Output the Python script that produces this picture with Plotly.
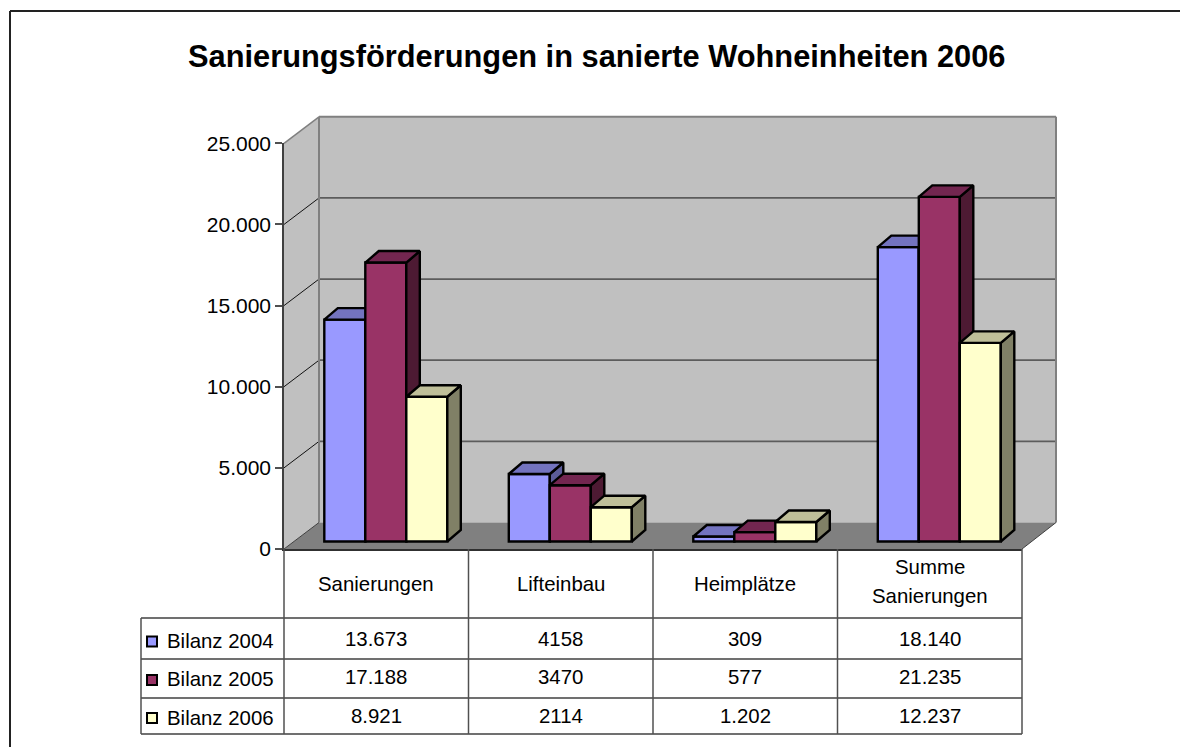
import plotly.graph_objects as go

# ---------- data ----------
categories = ["Sanierungen", "Lifteinbau", "Heimplätze", "Summe<br>Sanierungen"]
series_names = ["Bilanz 2004", "Bilanz 2005", "Bilanz 2006"]
bilanz_2004 = [13673, 4158, 309, 18140]
bilanz_2005 = [17188, 3470, 577, 21235]
bilanz_2006 = [8921, 2114, 1202, 12237]
labels_2004 = ["13.673", "4158", "309", "18.140"]
labels_2005 = ["17.188", "3470", "577", "21.235"]
labels_2006 = ["8.921", "2114", "1.202", "12.237"]
y_ticks = [0, 5000, 10000, 15000, 20000, 25000]
y_tick_labels = ["0", "5.000", "10.000", "15.000", "20.000", "25.000"]
title_text = "Sanierungsförderungen in sanierte Wohneinheiten 2006"

front_colors = ["#9999FF", "#993366", "#FFFFCC"]
top_colors = ["#7373BF", "#732650", "#BFBF99"]
side_colors = ["#5C5C99", "#4D1A33", "#808066"]

# ---------- layout geometry (pixels of the 1180x747 page) ----------
W, H = 1180, 747
X0, X1 = 284, 1022         # front of the floor
Y0, YT = 549, 143.3        # value 0 / value 25000 at the front
DX, DY = 35, 26.5          # depth of the chart box
FONT = "Liberation Sans"
TSIZE = 20.4

cat_w = (X1 - X0) / 4
bar_w = 41 / cat_w
first_bar_left = 324.3
group_centre = first_bar_left + 61.5
x_lo = (X0 - group_centre) / cat_w
x_hi = (X1 - group_centre) / cat_w
val_per_px = 25000 / (Y0 - YT)
bar_base = 7.5 * val_per_px
depth_x = 13.5 / cat_w
depth_y = 11.5 * val_per_px


def px(x):
    return x / W


def py(y):
    return 1 - y / H


def vy(v):
    return Y0 - v / val_per_px


shapes = []


def poly(points, fill, line=None, lw=0):
    path = "M " + " L ".join(f"{px(a):.5f},{py(b):.5f}" for a, b in points) + " Z"
    shapes.append(dict(type="path", path=path, xref="paper", yref="paper", fillcolor=fill,
                       line=dict(color=line or fill, width=lw), layer="below"))


def seg(a, b, c, d, color, lw=1, layer="above"):
    shapes.append(dict(type="line", xref="paper", yref="paper", x0=px(a), y0=py(b), x1=px(c), y1=py(d),
                       line=dict(color=color, width=lw), layer=layer))


# chart frame (only left and top edges fall inside the picture)
seg(10, 11, 10, H, "#222222", 2)
seg(10, 11, W, 11, "#222222", 2)

# 3-D box
top_back = vy(25000) - DY
base_back = Y0 - DY
poly([(X0, vy(25000)), (X0 + DX, top_back), (X0 + DX, base_back), (X0, Y0)], "#C0C0C0")
poly([(X0 + DX, top_back), (X1 + DX - 1, top_back), (X1 + DX - 1, base_back), (X0 + DX, base_back)], "#C0C0C0")
poly([(X0, Y0), (X0 + DX, base_back), (X1 + 34, base_back), (X1, Y0)], "#808080")
for t in y_ticks[1:-1]:
    seg(X0 + DX, vy(t) - DY, X1 + 34, vy(t) - DY, "#5C5C5C", 1.8, "below")
    seg(X0, vy(t), X0 + DX, vy(t) - DY, "#111111", 1, "below")
seg(X0 + DX, top_back, X1 + 34, top_back, "#808080", 2, "below")
seg(X0 + DX, top_back, X0 + DX, base_back, "#808080", 2, "below")
seg(X1 + 34, top_back, X1 + 34, base_back, "#808080", 2, "below")
seg(X0, vy(25000), X0 + DX, top_back, "#808080", 1.5, "below")
seg(X0, Y0, X0 + DX, base_back, "#404040", 1, "below")
seg(X1, Y0, X1 + 34, base_back, "#404040", 1, "below")

# data table grid
table_rows = [618, 659, 698, 734]
legend_left = 141
table_cols = [X0 + i * cat_w for i in range(5)]
for r in table_rows:
    seg(legend_left, r, X1, r, "#404040", 1.5)
for c in table_cols:
    seg(c, Y0, c, table_rows[-1], "#505050", 1.5)
seg(legend_left, table_rows[0], legend_left, table_rows[-1], "#505050", 1.5)

annotations = [dict(text=f"<b>{title_text}</b>", x=px(596), y=py(56), xref="paper", yref="paper",
                    xanchor="center", yanchor="middle", showarrow=False,
                    font=dict(family=FONT, size=30.8, color="#000000"))]


def label(text, x, y, anchor="center"):
    annotations.append(dict(text=text, x=px(x), y=py(y), xref="paper", yref="paper", xanchor=anchor,
                            yanchor="middle", showarrow=False,
                            font=dict(family=FONT, size=TSIZE, color="#000000")))


for i, c in enumerate(categories):
    if "<br>" in c:
        a, b = c.split("<br>")
        label(a, table_cols[i] + cat_w / 2, 567)
        label(b, table_cols[i] + cat_w / 2, 596)
    else:
        label(c, table_cols[i] + cat_w / 2, 584)

row_y = [639, 677, 716]
key_y = [641.5, 680, 718]
for j, labs in enumerate([labels_2004, labels_2005, labels_2006]):
    for i, t in enumerate(labs):
        label(t, table_cols[i] + cat_w / 2, row_y[j])
    label(series_names[j], 165, row_y[j] + 1.5, "left")
    poly([(147, key_y[j] - 5), (157, key_y[j] - 5), (157, key_y[j] + 5), (147, key_y[j] + 5)],
         front_colors[j], "#000000", 2)
    shapes[-1]["layer"] = "above"

# ---------- marks ----------
fig = go.Figure()
all_values = [bilanz_2004, bilanz_2005, bilanz_2006]
for j, vals in enumerate(all_values):
    suffix = "" if j == 0 else str(j + 1)
    centres = [i + (j - 1) * bar_w for i in range(len(vals))]
    fig.add_trace(go.Bar(x=centres, y=vals, base=bar_base, width=bar_w, name=series_names[j],
                         marker=dict(color=front_colors[j], line=dict(color="#000000", width=2.4)),
                         xaxis="x" + suffix, yaxis="y" + suffix, showlegend=False))
    sx, sy, tx, ty = [], [], [], []
    for c, v in zip(centres, vals):
        l, r = c - bar_w / 2, c + bar_w / 2
        b, t = bar_base, bar_base + v
        sx += [r, r + depth_x, r + depth_x, r, r, None]
        sy += [b, b + depth_y, t + depth_y, t, b, None]
        tx += [l, l + depth_x, r + depth_x, r, l, None]
        ty += [t, t + depth_y, t + depth_y, t, t, None]
    for xs, ys, col in ((sx, sy, side_colors[j]), (tx, ty, top_colors[j])):
        fig.add_trace(go.Scatter(x=xs, y=ys, mode="lines", fill="toself", fillcolor=col,
                                 line=dict(color="#000000", width=2.4), cliponaxis=False,
                                 xaxis="x" + suffix, yaxis="y" + suffix, showlegend=False,
                                 hoverinfo="skip"))

xdom = [px(X0), px(X1)]
ydom = [py(Y0), py(YT)]
hidden = dict(visible=False, showgrid=False, zeroline=False, automargin=False)
fig.update_layout(
    template="none",
    width=W, height=H, autosize=False,
    margin=dict(l=0, r=0, t=0, b=0, pad=0),
    paper_bgcolor="#FFFFFF", plot_bgcolor="rgba(0,0,0,0)",
    barmode="overlay", showlegend=False,
    font=dict(family=FONT, color="#000000"),
    xaxis=dict(domain=xdom, range=[x_lo, x_hi], showgrid=False, zeroline=False, showticklabels=False,
               ticks="", showline=True, linecolor="#303030", linewidth=1.5, anchor="y", automargin=False),
    yaxis=dict(domain=ydom, range=[0, 25000], tickvals=y_ticks, ticktext=y_tick_labels, ticks="outside",
               ticklen=7, tickcolor="#505050", tickwidth=1.5, showgrid=False, zeroline=False, showline=True,
               linecolor="#404040", linewidth=1.5, anchor="x", automargin=False,
               tickfont=dict(family=FONT, size=21, color="#000000")),
    xaxis2=dict(domain=xdom, range=[x_lo, x_hi], overlaying="x", anchor="y2", **hidden),
    yaxis2=dict(domain=ydom, range=[0, 25000], overlaying="y", anchor="x2", **hidden),
    xaxis3=dict(domain=xdom, range=[x_lo, x_hi], overlaying="x", anchor="y3", **hidden),
    yaxis3=dict(domain=ydom, range=[0, 25000], overlaying="y", anchor="x3", **hidden),
    shapes=shapes, annotations=annotations,
)

fig.write_html("out.html", config={"displayModeBar": False},
               post_script="document.body.style.margin='0';document.body.style.overflow='hidden';")
